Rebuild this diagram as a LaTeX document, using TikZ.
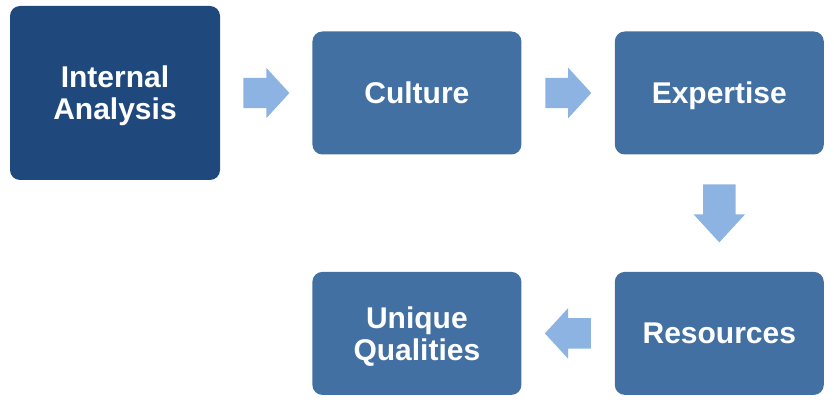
\documentclass[tikz,border=0pt]{standalone}
\usepackage{fontspec}
\setmainfont{Liberation Sans}
\usepackage{tikz}
\usetikzlibrary{shapes.arrows,calc,positioning}
\definecolor{darkbox}{HTML}{1F497D}
\definecolor{midbox}{HTML}{4270A2}
\definecolor{lightarrow}{HTML}{8DB3E2}

\begin{document}
\begin{tikzpicture}[x=1pt, y=-1pt,
    box/.style={rectangle, rounded corners=10pt, fill=midbox, text=white, align=center, text depth=0pt,
        font=\fontsize{30}{32}\selectfont\bfseries, minimum width=209pt, minimum height=123pt, inner sep=0pt},
    blockarrow/.style={single arrow, fill=lightarrow, draw=none, inner xsep=0pt, inner ysep=15pt, anchor=tail,
        single arrow head extend=10pt, single arrow tip angle=95, minimum height=46pt}]

            \useasboundingbox (0,0) rectangle (834,403);

            \node[box, fill=darkbox, minimum width=210pt, minimum height=174pt] (ia) at (115,93) {Internal\\Analysis};
            \node[box, right=92pt of ia] (cu) {Culture};
            \node[box, right=93pt of cu] (ex) {Expertise};
            \node[box, below=117pt of ex] (re) {Resources};
            \node[box, left=93pt of re] (uq) {Unique\\Qualities};


            \node[blockarrow] (a1) at ($(ia.east)!0.5!(cu.west)+(-23,0)$) {};
            \node[blockarrow] (a2) at ($(cu.east)!0.5!(ex.west)+(-23,0)$) {};
            \node[blockarrow, rotate=-90, minimum height=58pt, inner ysep=16pt,
                single arrow head extend=9.5pt, single arrow tip angle=85] (a3) at ($(ex.south)!0.5!(re.north)+(0,-29)$) {};
            \node[blockarrow, rotate=180] (a4) at ($(re.west)!0.5!(uq.east)+(23,0)$) {};

    \end{tikzpicture}
\end{document}
